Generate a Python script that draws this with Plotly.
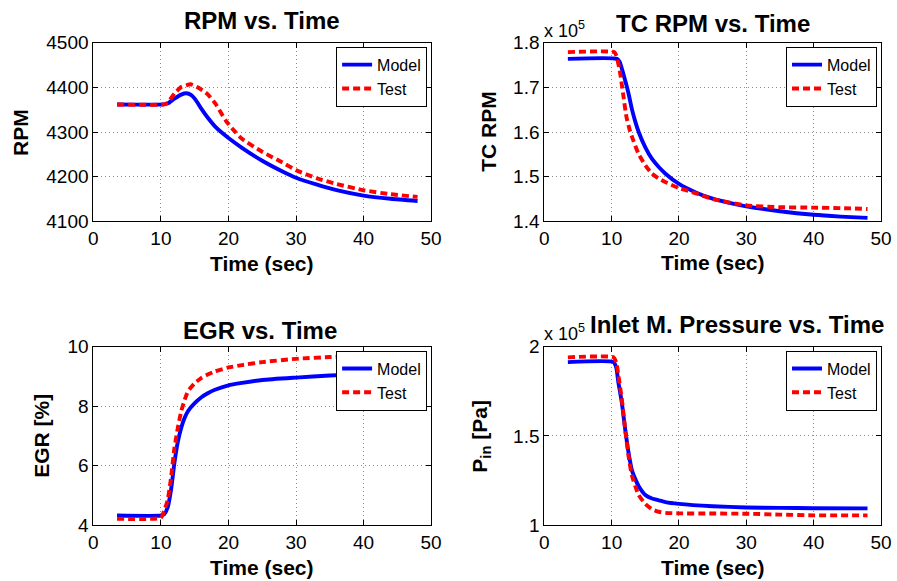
import plotly.graph_objects as go

# ---------------- data ----------------
rpm_t_model = [3.5, 10.3, 11, 12, 13, 13.76, 14.5, 15, 15.5, 16, 17, 18, 19, 20, 22, 25, 28, 30, 33, 36, 40, 44, 48]
rpm_model = [4362, 4362, 4364, 4375, 4384, 4387, 4383, 4375, 4364, 4352, 4331, 4313, 4299, 4287, 4265, 4236,
             4212, 4198, 4183, 4170, 4158, 4151, 4146]
rpm_t_test = [3.5, 10.5, 11, 12, 13, 14.4, 15.5, 16.9, 18.1, 19.6, 20.8, 22, 25, 28, 30, 33, 36, 40, 44, 48]
rpm_test = [4362, 4362, 4366, 4386, 4401, 4407, 4400, 4385, 4363, 4326, 4304, 4285, 4256, 4232,
            4215, 4197, 4184, 4170, 4161, 4155]

tc_t_model = [3.5, 10.8, 11.2, 12, 12.5, 13, 13.5, 14, 15, 16, 17, 18, 20, 22.5, 25, 28, 30, 35, 40, 44, 48]
tc_model = [1.764, 1.764, 1.757, 1.716, 1.687, 1.652, 1.624, 1.601, 1.566, 1.540, 1.522, 1.507, 1.484, 1.465,
            1.451, 1.440, 1.434, 1.423, 1.415, 1.411, 1.408]
tc_t_test = [3.5, 10.4, 10.7, 11.2, 11.7, 12.2, 12.7, 13.2, 14, 15, 16, 17, 18.3, 20, 22.5, 25, 30, 35, 40, 44, 48]
tc_test = [1.779, 1.779, 1.771, 1.738, 1.686, 1.634, 1.604, 1.582, 1.551, 1.526, 1.507, 1.496, 1.486, 1.475,
           1.463, 1.450, 1.436, 1.432, 1.431, 1.430, 1.428]

egr_t = [3.5, 10, 10.5, 11, 11.5, 12, 12.5, 13, 13.5, 14, 15, 16, 17, 18, 20, 22, 25, 30, 35, 40, 44, 48]
egr_model = [4.33, 4.33, 4.38, 4.60, 5.20, 6.10, 6.80, 7.27, 7.60, 7.83, 8.10, 8.30, 8.44, 8.55, 8.70, 8.78,
             8.88, 8.96, 9.03, 9.07, 9.10, 9.12]
egr_test = [4.22, 4.26, 4.50, 4.85, 5.60, 6.60, 7.27, 7.83, 8.20, 8.50, 8.77, 8.95, 9.07, 9.17, 9.30, 9.38,
            9.48, 9.59, 9.65, 9.70, 9.73, 9.76]

pin_t = [3.5, 10.3, 10.7, 11, 11.5, 12, 12.5, 13, 13.5, 14, 15, 16, 17, 18, 20, 25, 30, 35, 40, 48]
pin_model = [1.913, 1.913, 1.880, 1.800, 1.690, 1.540, 1.410, 1.310, 1.260, 1.220, 1.170, 1.150, 1.140, 1.130,
             1.120, 1.107, 1.100, 1.098, 1.096, 1.095]
pin_test = [1.940, 1.940, 1.910, 1.840, 1.710, 1.540, 1.390, 1.280, 1.220, 1.170, 1.120, 1.090, 1.076, 1.070,
            1.067, 1.066, 1.065, 1.060, 1.056, 1.056]

x_ticks = [0, 10, 20, 30, 40, 50]
rpm_ticks = [4100, 4200, 4300, 4400, 4500]
tc_ticks = [1.4, 1.5, 1.6, 1.7, 1.8]
egr_ticks = [4, 6, 8, 10]
pin_ticks = [1, 1.5, 2]

titles = ["RPM vs. Time", "TC RPM vs. Time", "EGR vs. Time", "Inlet M. Pressure vs. Time"]
ylabels = ["RPM", "TC RPM", "EGR [%]", "P<sub>in</sub> [Pa]"]
xlabel = "Time (sec)"

# ---------------- figure ----------------
W, H = 897, 581
FONT = "Liberation Sans, Arial, Helvetica, sans-serif"

# page -> picture calibration measured for the viewer (x' = SX*x + OX, y' = SY*y + OY)
SX, OX = 0.9889, 3.0
SY, OY = 0.9707, 9.0


def px(x):
    return ((x - OX) / SX) / W


def py(y):
    return 1 - ((y - OY) / SY) / H


fig = go.Figure()

panels = [
    (rpm_t_model, rpm_model, rpm_t_test, rpm_test, rpm_ticks, [4100, 4500]),
    (tc_t_model, tc_model, tc_t_test, tc_test, tc_ticks, [1.4, 1.8]),
    (egr_t, egr_model, egr_t, egr_test, egr_ticks, [4, 10]),
    (pin_t, pin_model, pin_t, pin_test, pin_ticks, [1, 2]),
]
# plot-area boxes in picture pixels (left, right, top, bottom)
boxes = [(92, 432, 42, 222), (546, 885, 42, 222), (92, 432, 348, 528), (546, 885, 348, 528)]
legend_names = ["legend", "legend2", "legend3", "legend4"]

for i, (tm, m, ts, s, yt, yr) in enumerate(panels):
    n = "" if i == 0 else str(i + 1)
    fig.add_trace(go.Scatter(x=tm, y=m, mode="lines", name="Model",
                             line=dict(color="#0000ff", width=3.9, shape="spline", smoothing=0.5),
                             xaxis="x" + n, yaxis="y" + n, legend=legend_names[i]))
    fig.add_trace(go.Scatter(x=ts, y=s, mode="lines", name="Test",
                             line=dict(color="#ff0000", width=3.9, dash="7px,4px", shape="spline", smoothing=0.5),
                             xaxis="x" + n, yaxis="y" + n, legend=legend_names[i]))
    l, r, tp, b = boxes[i]
    axcommon = dict(showline=True, linecolor="black", linewidth=1, mirror="ticks",
                    ticks="inside", ticklen=5, tickcolor="black",
                    showgrid=True, gridcolor="#8c8c8c", griddash="1px,3px", gridwidth=1,
                    zeroline=False, tickfont=dict(family=FONT, size=19, color="black"))
    fig.update_layout({
        "xaxis" + n: dict(domain=[px(l), px(r)], range=[0, 50], tickvals=x_ticks,
                          anchor="y" + n, **axcommon),
        "yaxis" + n: dict(domain=[py(b), py(tp)], range=yr, tickvals=yt,
                          anchor="x" + n, **axcommon),
    })
    fig.update_layout({
        legend_names[i]: dict(x=px(r - 4), y=py(tp + 4), xanchor="right", yanchor="top",
                              bgcolor="white", bordercolor="black", borderwidth=1,
                              font=dict(family=FONT, size=16, color="black"),
                              tracegroupgap=0, itemwidth=30)
    })

ann = []
title_pos = [(262, 20), (716, 23), (260, 332), (740, 326)]
for (x, y), txt in zip(title_pos, titles):
    ann.append(dict(text="<b>%s</b>" % txt, x=px(x), y=py(y), xref="paper", yref="paper",
                    xanchor="center", yanchor="middle", showarrow=False,
                    font=dict(family=FONT, size=24, color="black")))
xl_pos = [(262, 264), (716, 263), (262, 570), (716, 570)]
for (x, y) in xl_pos:
    ann.append(dict(text="<b>%s</b>" % xlabel, x=px(x), y=py(y), xref="paper", yref="paper",
                    xanchor="center", yanchor="middle", showarrow=False,
                    font=dict(family=FONT, size=21, color="black")))
yl_pos = [(18, 132), (489, 131), (40, 438), (482, 438)]
for (x, y), txt in zip(yl_pos, ylabels):
    ann.append(dict(text="<b>%s</b>" % txt, x=px(x), y=py(y), xref="paper", yref="paper",
                    xanchor="center", yanchor="middle", showarrow=False, textangle=-90,
                    font=dict(family=FONT, size=21, color="black")))
for (x, y) in [(545, 41), (545, 346)]:
    ann.append(dict(text="x 10<sup>5</sup>", x=px(x), y=py(y), xref="paper", yref="paper",
                    xanchor="left", yanchor="bottom", showarrow=False, borderpad=0,
                    font=dict(family=FONT, size=18, color="black")))

fig.update_layout(width=W, height=H, margin=dict(l=0, r=0, t=0, b=0),
                  paper_bgcolor="white", plot_bgcolor="white",
                  annotations=ann, showlegend=True)

fig.write_html("out.html", config={"displayModeBar": False},
               post_script="document.body.style.margin='0px';document.body.style.overflow='hidden';")
